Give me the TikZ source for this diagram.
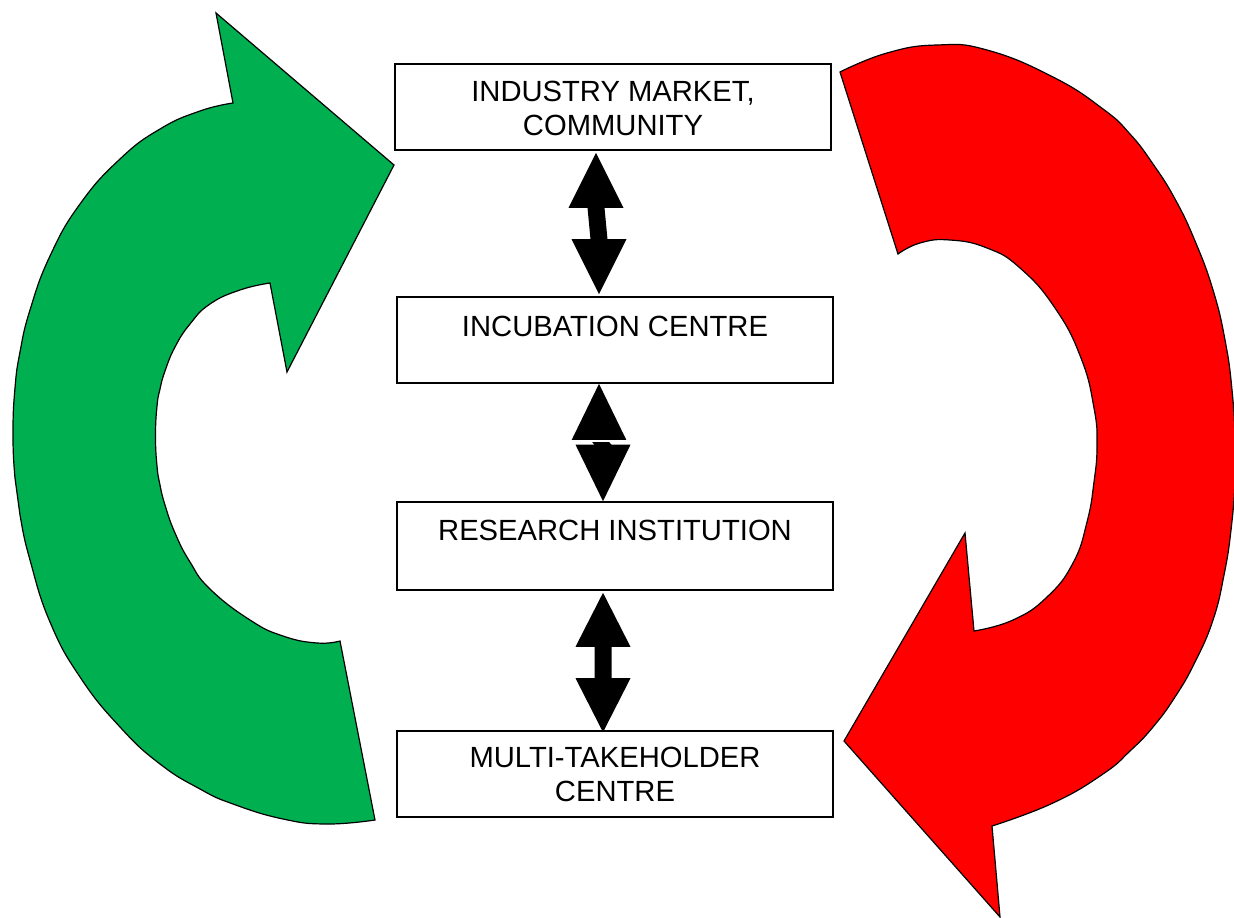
\documentclass[tikz,border=0pt]{standalone}
\usepackage{fontspec}
\setmainfont{Liberation Sans}
\usetikzlibrary{calc}
\definecolor{grn}{HTML}{00B050}
\definecolor{rd}{HTML}{FF0000}
% double block arrow between two coordinates: #1 top tip, #2 bottom tip, #3 head length
\newcommand\myDblArrow[3]{%
  \fill[black] let \p1=(#1), \p2=(#2) in
    (\p1) -- (\x1+27.5pt,\y1-#3) -- (\x1+8.5pt,\y1-#3) -- (\x2+8.5pt,\y2+#3)
    -- (\x2+27.5pt,\y2+#3) -- (\p2) -- (\x2-27.5pt,\y2+#3) -- (\x2-8.5pt,\y2+#3)
    -- (\x1-8.5pt,\y1-#3) -- (\x1-27.5pt,\y1-#3) -- cycle;}
\begin{document}
\begin{tikzpicture}[x=1pt,y=-1pt,
  box/.style={draw=black, line width=1.6pt, fill=white, minimum width=436pt,
              minimum height=86pt, inner sep=0pt},
  lbl/.style={anchor=north, inner sep=0pt, align=center,
              font=\fontsize{29.2}{33.5}\selectfont},
  bigarrow/.style={draw=black, line width=1.2pt, line join=miter},
  crv/.style={smooth, tension=0.8}]
\useasboundingbox (0,0) rectangle (1234,918);
\fill[white] (0,0) rectangle (1234,918);

% green circular arrow
\filldraw[bigarrow, fill=grn] (375,820) -- (340,641)
  -- plot[crv] coordinates {(340,641) (317,643) (283,636) (250,620)
     (210,589) (190,562) (175,533) (165,505) (160,485) (157,466) (155.5,436)
     (157,406) (160,389) (165,371) (175,347) (190,324) (210,304) (240,290) (270,283)}
  -- (287,372) -- (394,165) -- (216,13) -- (233,103)
  -- plot[crv] coordinates {(233,103) (200,111) (160,129) (120,159)
     (80,204) (50,256) (30,310) (20,352) (15,388) (13,433) (15,478) (20,515)
     (30,560) (50,622) (80,677) (120,727) (160,764) (200,789) (233,804) (283,819)
     (327,824) (375,820)}
  -- cycle;

% red circular arrow
\filldraw[bigarrow, fill=rd] (840,72)
  -- plot[crv] coordinates {(840,72) (887,53) (937,45) (987,50)
     (1053,77) (1103,109) (1130,134) (1153,164) (1175,199) (1195,241) (1213,290)
     (1225,340) (1232,390) (1235,440) (1235,480) (1231,530) (1224,575) (1213,620)
     (1195,662) (1175,697) (1153,727) (1130,751) (1103,774) (1053,803) (992,826)}
  -- (1000,917) -- (844,741) -- (965,533) -- (974,631)
  -- plot[crv] coordinates {(974,631) (1013,620) (1047,597)
     (1073,563) (1087,522) (1094,482) (1097,445) (1094,408) (1081,358) (1055,308)
     (1020,268) (987,248) (950,240) (920,243) (898,254)}
  -- cycle;

% boxes
\node[box] (b1) at (613,107) {};
\node[box] (b2) at (615,340) {};
\node[box, minimum height=88pt] (b3) at (615,546) {};
\node[box] (b4) at (615,774) {};

\node[lbl] (t1) at ($(b1.north)+(0,18)$) {INDUSTRY MARKET,\\COMMUNITY};
\node[lbl] (t2) at ($(b2.north)+(0,19.5)$) {INCUBATION CENTRE};
\node[lbl] (t3) at ($(b3.north)+(0,19)$) {RESEARCH INSTITUTION};
\node[lbl] (t4) at ($(b4.north)+(0,17)$) {MULTI-TAKEHOLDER\\CENTRE};

% double arrows between boxes
\coordinate (a1t) at ($(b1.south)+(-17,2)$);
\coordinate (a1b) at ($(b2.north)+(-16,-2)$);
\coordinate (a2t) at ($(b2.south)+(-16,0)$);
\coordinate (a2b) at ($(b3.north)+(-12,0)$);
\coordinate (a3t) at ($(b3.south)+(-12,2)$);
\coordinate (a3b) at ($(b4.north)+(-12,2)$);
\myDblArrow{a1t}{a1b}{55pt}
\myDblArrow{a2t}{a2b}{56.5pt}
\myDblArrow{a3t}{a3b}{54pt}
\draw[white, line width=1.5pt] ($(a2t)+(-28,57)$) -- ($(a2t)+(28,57)$);
\end{tikzpicture}
\end{document}
